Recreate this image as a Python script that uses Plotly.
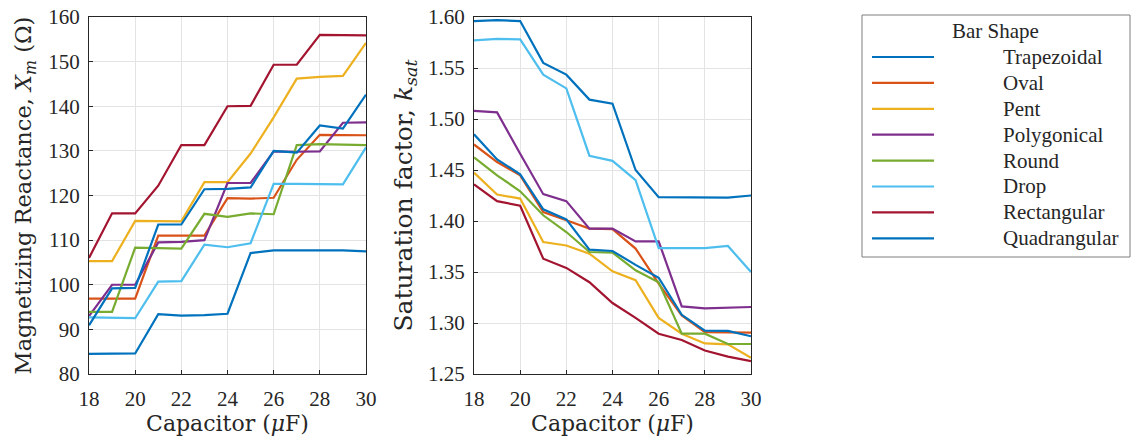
import plotly.graph_objects as go

# Capacitor values (µF)
capacitor = [18, 19, 20, 21, 22, 23, 24, 25, 26, 27, 28, 29, 30]

shapes = ["Trapezoidal", "Oval", "Pent", "Polygonical", "Round", "Drop", "Rectangular", "Quadrangular"]
colors = ["#0072BD", "#D95319", "#EDB120", "#7E2F8E", "#77AC30", "#4DBEEE", "#A2142F", "#0072BD"]

# Magnetizing reactance Xm (ohm) per bar shape
xm_trapezoidal = [84.5, 84.5, 84.6, 93.4, 93.1, 93.2, 93.5, 107.1, 107.7, 107.7, 107.7, 107.7, 107.5]
xm_oval = [96.9, 96.9, 96.9, 111.0, 111.0, 111.0, 119.4, 119.3, 119.5, 128.0, 133.6, 133.6, 133.5]
xm_pent = [105.3, 105.3, 114.3, 114.3, 114.2, 123.0, 123.0, 129.4, 137.5, 146.2, 146.6, 146.8, 154.2]
xm_polygonical = [93.0, 100.0, 100.0, 109.5, 109.6, 110.0, 122.8, 122.8, 129.9, 129.8, 129.9, 136.3, 136.4]
xm_round = [93.9, 93.9, 108.3, 108.2, 108.1, 115.9, 115.2, 116.0, 115.8, 131.3, 131.5, 131.4, 131.3]
xm_drop = [92.7, 92.6, 92.5, 100.7, 100.8, 109.0, 108.4, 109.3, 122.6, 122.6, 122.6, 122.5, 130.8]
xm_rectangular = [106.0, 116.0, 116.0, 122.2, 131.3, 131.3, 140.0, 140.1, 149.3, 149.3, 156.0, 155.9, 155.9]
xm_quadrangular = [90.9, 99.2, 99.3, 113.5, 113.5, 121.4, 121.5, 121.8, 130.0, 129.6, 135.7, 135.0, 142.6]

# Saturation factor k_sat per bar shape
ks_trapezoidal = [1.596, 1.597, 1.596, 1.555, 1.5435, 1.519, 1.515, 1.450, 1.4234, 1.4235, 1.423, 1.423, 1.425]
ks_oval = [1.475, 1.4578, 1.4448, 1.4088, 1.4007, 1.3925, 1.392, 1.373, 1.3386, 1.3075, 1.291, 1.291, 1.2905]
ks_pent = [1.4474, 1.426, 1.422, 1.3794, 1.376, 1.368, 1.3507, 1.342, 1.305, 1.2895, 1.280, 1.279, 1.266]
ks_polygonical = [1.508, 1.5065, 1.466, 1.4263, 1.4195, 1.3925, 1.3925, 1.380, 1.380, 1.3163, 1.3144, 1.3147, 1.3157]
ks_round = [1.4623, 1.4448, 1.4292, 1.4056, 1.3892, 1.3696, 1.369, 1.3517, 1.340, 1.2895, 1.2895, 1.2794, 1.2794]
ks_drop = [1.577, 1.5786, 1.578, 1.5435, 1.530, 1.464, 1.459, 1.440, 1.3735, 1.3735, 1.3735, 1.3755, 1.350]
ks_rectangular = [1.436, 1.4195, 1.415, 1.363, 1.354, 1.340, 1.3196, 1.305, 1.2895, 1.2833, 1.273, 1.267, 1.2627]
ks_quadrangular = [1.485, 1.4604, 1.4458, 1.4114, 1.4016, 1.372, 1.3706, 1.357, 1.3444, 1.308, 1.2925, 1.2922, 1.287]

xm_series = [xm_trapezoidal, xm_oval, xm_pent, xm_polygonical, xm_round, xm_drop, xm_rectangular, xm_quadrangular]
ks_series = [ks_trapezoidal, ks_oval, ks_pent, ks_polygonical, ks_round, ks_drop, ks_rectangular, ks_quadrangular]

x_ticks = [18, 20, 22, 24, 26, 28, 30]
xm_ticks = [80, 90, 100, 110, 120, 130, 140, 150, 160]
ks_ticks = [1.25, 1.30, 1.35, 1.40, 1.45, 1.50, 1.55, 1.60]

W, H = 1131, 439
FONT = "Liberation Serif"
TITLE_FONT = "DejaVu Serif"
AX_COLOR = "#262626"
GRID = "#e3e3e3"

fig = go.Figure()
for name, color, xm, ks in zip(shapes, colors, xm_series, ks_series):
    fig.add_trace(go.Scatter(x=capacitor, y=xm, mode="lines", name=name,
                             line=dict(color=color, width=2.2),
                             xaxis="x", yaxis="y", showlegend=False))
    fig.add_trace(go.Scatter(x=capacitor, y=ks, mode="lines", name=name,
                             line=dict(color=color, width=2.2),
                             xaxis="x2", yaxis="y2", showlegend=False))


def axis_common():
    return dict(showline=True, linecolor=AX_COLOR, linewidth=1, mirror=True,
                showgrid=True, gridcolor=GRID, gridwidth=1,
                ticks="inside", ticklen=4, tickcolor=AX_COLOR,
                tickfont=dict(family=FONT, size=21, color=AX_COLOR),
                zeroline=False, automargin=False)


def px_x(px):
    return px / W


def px_y(py):
    return 1 - py / H


y_dom = [px_y(374), px_y(17)]
xtitle = dict(text="Capacitor (<i>μ</i>F)", font=dict(family=TITLE_FONT, size=22))

fig.update_layout(
    width=W, height=H,
    margin=dict(l=0, r=0, t=0, b=0),
    paper_bgcolor="white", plot_bgcolor="white",
    font=dict(family=FONT, color=AX_COLOR),
    showlegend=False,
    xaxis=dict(domain=[px_x(89), px_x(366)], range=[18, 30], tickvals=x_ticks,
               title=dict(standoff=0, **xtitle), ticklabelstandoff=6,
               anchor="y", **axis_common()),
    yaxis=dict(domain=y_dom, range=[80, 160], tickvals=xm_ticks, ticklabelstandoff=4,
               title=dict(text="Magnetizing Reactance, <i>X</i><sub><i>m</i></sub> (Ω)",
                          font=dict(family=TITLE_FONT, size=22.5), standoff=10),
               anchor="x", **axis_common()),
    xaxis2=dict(domain=[px_x(474), px_x(751)], range=[18, 30], tickvals=x_ticks,
                title=dict(standoff=0, **xtitle), ticklabelstandoff=6,
                anchor="y2", **axis_common()),
    yaxis2=dict(domain=y_dom, range=[1.25, 1.60], tickvals=ks_ticks, tickformat=".2f",
                ticklabelstandoff=4,
                title=dict(text="Saturation factor, <i>k</i><sub><i>sat</i></sub>",
                           font=dict(family=TITLE_FONT, size=25), standoff=8),
                anchor="x2", **axis_common()),
)

# Legend panel: framed box with a centred heading and one sample line per bar shape
box_l, box_r, box_t, box_b = 862, 1130, 15, 257
fig.add_shape(type="rect", xref="paper", yref="paper",
              x0=px_x(box_l), x1=px_x(box_r), y0=px_y(box_b), y1=px_y(box_t),
              line=dict(color="#7f7f7f", width=1), fillcolor="white", layer="above")
fig.add_annotation(text="Bar Shape", xref="paper", yref="paper",
                   x=px_x(996), y=px_y(31), xanchor="center", yanchor="middle",
                   showarrow=False, font=dict(family=FONT, size=21, color=AX_COLOR))
for i, (name, color) in enumerate(zip(shapes, colors)):
    ry = 57 + 25.9 * i
    fig.add_shape(type="line", xref="paper", yref="paper",
                  x0=px_x(872), x1=px_x(934), y0=px_y(ry), y1=px_y(ry),
                  line=dict(color=color, width=2.2), layer="above")
    fig.add_annotation(text=name, xref="paper", yref="paper",
                       x=px_x(1001), y=px_y(ry), xanchor="left", yanchor="middle",
                       showarrow=False, font=dict(family=FONT, size=21, color=AX_COLOR))

fig.write_html("out.html")
